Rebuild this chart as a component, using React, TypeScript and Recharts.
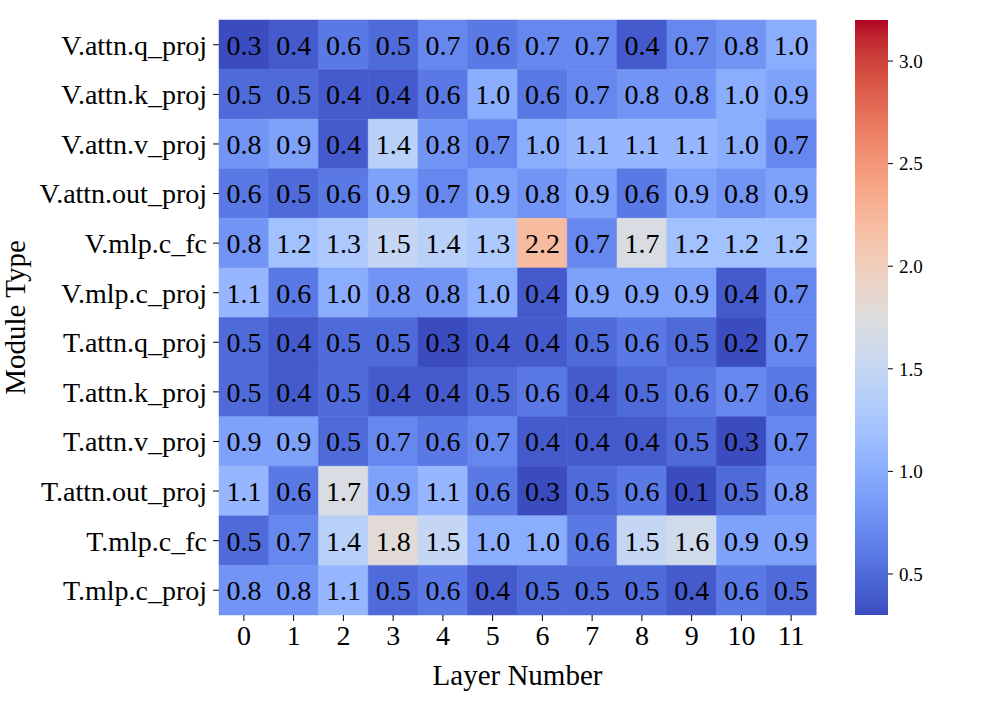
import { BarChart, Bar, XAxis, YAxis, Cell, LabelList } from "recharts";

const layers = [0, 1, 2, 3, 4, 5, 6, 7, 8, 9, 10, 11];

const modules = [
    "V.attn.q_proj",
    "V.attn.k_proj",
    "V.attn.v_proj",
    "V.attn.out_proj",
    "V.mlp.c_fc",
    "V.mlp.c_proj",
    "T.attn.q_proj",
    "T.attn.k_proj",
    "T.attn.v_proj",
    "T.attn.out_proj",
    "T.mlp.c_fc",
    "T.mlp.c_proj"
];

// one row per module, values per layer 0..11
const vAttnQ = [0.3, 0.4, 0.6, 0.5, 0.7, 0.6, 0.7, 0.7, 0.4, 0.7, 0.8, 1.0];
const vAttnK = [0.5, 0.5, 0.4, 0.4, 0.6, 1.0, 0.6, 0.7, 0.8, 0.8, 1.0, 0.9];
const vAttnV = [0.8, 0.9, 0.4, 1.4, 0.8, 0.7, 1.0, 1.1, 1.1, 1.1, 1.0, 0.7];
const vAttnOut = [0.6, 0.5, 0.6, 0.9, 0.7, 0.9, 0.8, 0.9, 0.6, 0.9, 0.8, 0.9];
const vMlpFc = [0.8, 1.2, 1.3, 1.5, 1.4, 1.3, 2.2, 0.7, 1.7, 1.2, 1.2, 1.2];
const vMlpProj = [1.1, 0.6, 1.0, 0.8, 0.8, 1.0, 0.4, 0.9, 0.9, 0.9, 0.4, 0.7];
const tAttnQ = [0.5, 0.4, 0.5, 0.5, 0.3, 0.4, 0.4, 0.5, 0.6, 0.5, 0.2, 0.7];
const tAttnK = [0.5, 0.4, 0.5, 0.4, 0.4, 0.5, 0.6, 0.4, 0.5, 0.6, 0.7, 0.6];
const tAttnV = [0.9, 0.9, 0.5, 0.7, 0.6, 0.7, 0.4, 0.4, 0.4, 0.5, 0.3, 0.7];
const tAttnOut = [1.1, 0.6, 1.7, 0.9, 1.1, 0.6, 0.3, 0.5, 0.6, 0.1, 0.5, 0.8];
const tMlpFc = [0.5, 0.7, 1.4, 1.8, 1.5, 1.0, 1.0, 0.6, 1.5, 1.6, 0.9, 0.9];
const tMlpProj = [0.8, 0.8, 1.1, 0.5, 0.6, 0.4, 0.5, 0.5, 0.5, 0.4, 0.6, 0.5];

const rows = [vAttnQ, vAttnK, vAttnV, vAttnOut, vMlpFc, vMlpProj, tAttnQ, tAttnK, tAttnV, tAttnOut, tMlpFc, tMlpProj];

const vmin = 0.3;
const vmax = 3.2;
const colorbarTicks = [0.5, 1.0, 1.5, 2.0, 2.5, 3.0];

// matplotlib coolwarm, 33 samples
const coolwarm = [
    [59, 76, 192], [68, 90, 204], [77, 104, 215], [87, 117, 225], [98, 130, 234],
    [108, 142, 241], [119, 154, 247], [130, 165, 251], [141, 176, 254], [152, 185, 255],
    [163, 194, 255], [174, 201, 253], [184, 208, 249], [194, 213, 244], [204, 217, 238],
    [213, 219, 230], [221, 221, 221], [229, 216, 209], [236, 211, 197], [241, 204, 185],
    [245, 196, 173], [247, 187, 160], [247, 177, 148], [247, 166, 135], [244, 154, 123],
    [241, 141, 111], [236, 127, 99], [229, 112, 88], [222, 96, 77], [213, 80, 66],
    [203, 62, 56], [192, 40, 47], [180, 4, 38]
];

const colorAt = (t: number) => {
    const c = Math.max(0, Math.min(1, t)) * (coolwarm.length - 1);
    const i = Math.min(coolwarm.length - 2, Math.floor(c));
    const f = c - i;
    const a = coolwarm[i];
    const b = coolwarm[i + 1];
    const m = (k: number) => Math.round(a[k] + (b[k] - a[k]) * f);
    return `rgb(${m(0)},${m(1)},${m(2)})`;
};

const colorFor = (v: number) => colorAt((v - vmin) / (vmax - vmin));

const tableData = layers.map((l) => {
    const d: any = { layer: String(l) };
    rows.forEach((r, i) => {
        d[`u${i}`] = 1;
        d[`v${i}`] = r[l];
    });
    return d;
});

const colorbarData = [{ name: "cb", range: [vmin, vmax] }];

const FONT = "'Liberation Serif', 'DejaVu Serif', serif";

const YTitle = (props: any) => {
    const vb = props.viewBox || {};
    const x = 25;
    const y = vb.y + vb.height / 2;
    return (
        <text x={x} y={y} transform={`rotate(-90 ${x} ${y})`} textAnchor="middle" fill="#000" fontSize={29} fontFamily={FONT}>
            Module Type
        </text>
    );
};

export default function App() {
    return (
        <div style={{ position: "absolute", left: 0, top: 0, width: 996, height: 712, background: "#fff", fontFamily: FONT }}>
            <div style={{ position: "absolute", left: 0, top: 0 }}>
                <BarChart
                    width={996}
                    height={712}
                    data={tableData}
                    barCategoryGap={0}
                    barGap={0}
                    margin={{ top: 20, right: 180, left: 0, bottom: 0 }}
                    style={{ fontFamily: FONT }}
                >
                    <XAxis
                        dataKey="layer"
                        height={97}
                        axisLine={false}
                        tickSize={6}
                        tickMargin={4}
                        tickLine={{ stroke: "#000" }}
                        tick={{ fill: "#000", fontSize: 28 }}
                        interval={0}
                        label={{ value: "Layer Number", position: "insideBottom", offset: 27, fill: "#000", fontSize: 29 }}
                    />
                    <YAxis
                        type="number"
                        domain={[0, 12]}
                        reversed
                        ticks={modules.map((_, i) => i + 0.5)}
                        tickFormatter={(v: number) => modules[Math.floor(v)]}
                        width={219}
                        interval={0}
                        axisLine={false}
                        tickSize={6}
                        tickMargin={6}
                        tickLine={{ stroke: "#000" }}
                        tick={{ fill: "#000", fontSize: 28 }}
                        label={<YTitle />}
                    />
                    {rows.map((row, i) => (
                        <Bar key={i} dataKey={`u${i}`} stackId="a" isAnimationActive={false}>
                            {row.map((v, j) => (
                                <Cell key={j} fill={colorFor(v)} stroke={colorFor(v)} strokeWidth={0.5} />
                            ))}
                            <LabelList
                                dataKey={`v${i}`}
                                position="center"
                                formatter={(v: number) => v.toFixed(1)}
                                fill="#000"
                                fontSize={28}
                            />
                        </Bar>
                    ))}
                </BarChart>
            </div>
            <div style={{ position: "absolute", left: 855, top: 0 }}>
                <BarChart
                    width={141}
                    height={712}
                    data={colorbarData}
                    barCategoryGap={0}
                    margin={{ top: 20, right: 0, left: 0, bottom: 97 }}
                    style={{ fontFamily: FONT }}
                >
                    <defs>
                        <linearGradient id="cw" x1="0" y1="1" x2="0" y2="0">
                            {coolwarm.map((c, i) => (
                                <stop key={i} offset={`${(i / (coolwarm.length - 1)) * 100}%`} stopColor={`rgb(${c[0]},${c[1]},${c[2]})`} />
                            ))}
                        </linearGradient>
                    </defs>
                    <XAxis dataKey="name" hide />
                    <YAxis
                        orientation="right"
                        type="number"
                        domain={[vmin, vmax]}
                        ticks={colorbarTicks}
                        tickFormatter={(v: number) => v.toFixed(1)}
                        width={108}
                        axisLine={false}
                        tickSize={5}
                        tickMargin={6}
                        tickLine={{ stroke: "#000" }}
                        tick={{ fill: "#000", fontSize: 19 }}
                        allowDataOverflow
                    />
                    <Bar dataKey="range" fill="url(#cw)" isAnimationActive={false} />
                </BarChart>
            </div>
        </div>
    );
}
